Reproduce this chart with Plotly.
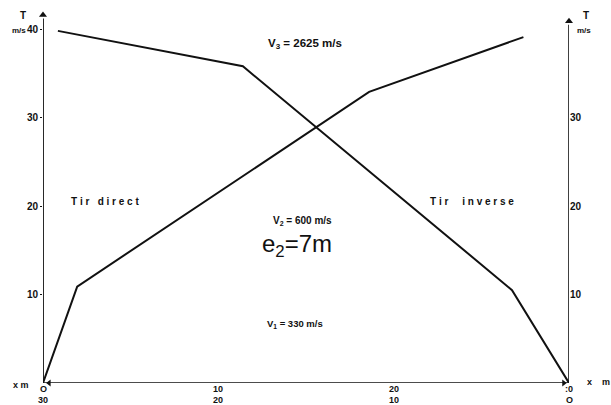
import plotly.graph_objects as go

# Travel-time curves (dromochronique): direct and reverse shots
direct_x = [0.0, 1.95, 18.6, 27.4]
direct_t = [0.0, 10.9, 32.9, 39.1]

inverse_x = [30.0, 26.75, 11.4, 0.85]
inverse_t = [0.0, 10.5, 35.8, 39.8]

y_ticks = [10, 20, 30, 40]
y2_ticks = [10, 20, 30]
x_ticks = [0, 10, 20, 30]
x_top_labels = ["O", "10", "20", ":0"]
x_bottom_labels = ["30", "20", "10", "O"]

FONT = "Liberation Sans"
BLACK = "#111111"

fig = go.Figure()

# Axis lines (kept as unclipped line traces so they sit on the plot edges)
fig.add_trace(go.Scatter(x=[0, 0], y=[0, 41.2], mode="lines", cliponaxis=False,
                         line=dict(color=BLACK, width=1.8), showlegend=False,
                         hoverinfo="skip"))
fig.add_trace(go.Scatter(x=[30, 30], y=[0, 40.5], mode="lines", cliponaxis=False,
                         line=dict(color=BLACK, width=1.6), showlegend=False,
                         hoverinfo="skip"))
fig.add_trace(go.Scatter(x=[0, 30], y=[0, 0], mode="lines", cliponaxis=False,
                         line=dict(color=BLACK, width=1.4), showlegend=False,
                         hoverinfo="skip"))

fig.add_trace(go.Scatter(x=direct_x, y=direct_t, mode="lines", cliponaxis=False,
                         line=dict(color=BLACK, width=2), showlegend=False,
                         hoverinfo="skip"))
fig.add_trace(go.Scatter(x=inverse_x, y=inverse_t, mode="lines", cliponaxis=False,
                         line=dict(color=BLACK, width=2), showlegend=False,
                         hoverinfo="skip"))

# Arrowheads
fig.add_trace(go.Scatter(x=[0, 30], y=[41.6, 40.9], mode="markers", cliponaxis=False,
                         marker=dict(symbol="triangle-up", size=7, color=BLACK),
                         showlegend=False, hoverinfo="skip"))
fig.add_trace(go.Scatter(x=[0.35], y=[0], mode="markers", cliponaxis=False,
                         marker=dict(symbol="triangle-left", size=6, color=BLACK),
                         showlegend=False, hoverinfo="skip"))
fig.add_trace(go.Scatter(x=[29.7], y=[0], mode="markers", cliponaxis=False,
                         marker=dict(symbol="triangle-right", size=6, color=BLACK),
                         showlegend=False, hoverinfo="skip"))

# invisible trace so the right-hand T scale is drawn
fig.add_trace(go.Scatter(x=[0], y=[0], yaxis="y2", mode="markers",
                         marker=dict(opacity=0), showlegend=False,
                         hoverinfo="skip"))

fig.update_layout(
    width=611, height=405,
    margin=dict(l=43, r=42, t=7, b=22, autoexpand=False),
    paper_bgcolor="white", plot_bgcolor="white",
    font=dict(family=FONT, color=BLACK),
    xaxis=dict(range=[0, 30], showgrid=False, zeroline=False, showline=False,
               showticklabels=False, ticks="", automargin=False),
    yaxis=dict(range=[0, 42.5], showgrid=False, zeroline=False, showline=False,
               tickvals=y_ticks, ticks="outside", ticklen=2, tickcolor=BLACK,
               automargin=False,
               tickfont=dict(size=10, family=FONT, weight="bold")),
    yaxis2=dict(range=[0, 42.5], overlaying="y", side="right", showgrid=False,
                zeroline=False, showline=False, tickvals=y2_ticks,
                ticks="", automargin=False,
                tickfont=dict(size=10, family=FONT, weight="bold")),
)


def px(xp, yp, text, size=10, bold=True):
    fig.add_annotation(x=(xp - 43) / 526, y=(383 - yp) / 376, xref="paper", yref="paper",
                       text=text, showarrow=False, xanchor="center", yanchor="middle",
                       font=dict(size=size, family=FONT, color=BLACK,
                                 weight="bold" if bold else "normal"))


# Double distance scale under the x axis
for xv, top, bottom in zip(x_ticks, x_top_labels, x_bottom_labels):
    xp = 43 + xv / 30 * 526
    px(xp, 388.5, top, size=9)
    px(xp, 399.5, bottom, size=9)

px(23, 15, "T", size=10)
px(19, 31, "m/s", size=8)
px(586, 15, "T", size=10)
px(584, 31, "m/s", size=8)
px(21, 385, "x m", size=9)
px(598, 382, "x    m", size=9)

px(305, 44, "V<sub>3</sub> = 2625 m/s", size=11.5)
px(105, 201, "T i r   d i r e c t", size=10)
px(472, 202, "T i r     i n v e r s e", size=10)
px(302, 221, "V<sub>2</sub> = 600 m/s", size=10)
px(297, 245, "e<sub>2</sub>=7m", size=24, bold=False)
px(295, 324, "V<sub>1</sub> = 330 m/s", size=9.5)

fig.write_html("out.html")
